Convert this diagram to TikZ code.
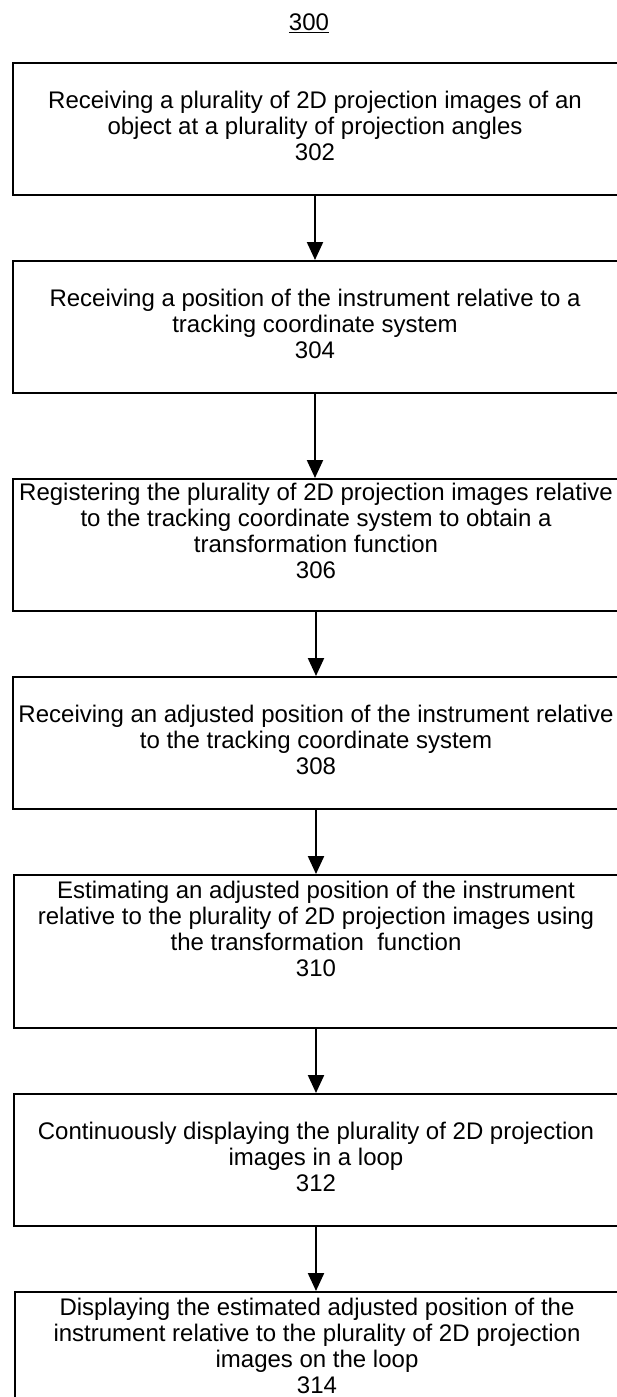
\documentclass[tikz,border=0pt]{standalone}
\usepackage{fontspec}
\setmainfont{Liberation Sans}
\usetikzlibrary{arrows.meta}
\tikzset{
  stepbox/.style={draw=black, line width=2.4pt, minimum width=640pt,
    minimum height=132pt, inner sep=0pt, anchor=north west},
  steptext/.style={align=center, inner sep=0pt, anchor=north,
    font=\fontsize{24}{26}\selectfont},
  flowarrow/.style={line width=2.2pt, -{Triangle[length=18pt,width=16pt]}},
}

\begin{document}
\begin{tikzpicture}[x=1pt,y=-1pt]
  \useasboundingbox (0,0) rectangle (617,1397);
  \clip (0,0) rectangle (617,1397);
  \node[font=\fontsize{24}{26}\selectfont] (fig) at (309,23) {\underline{300}};
  % boxes
  \node[stepbox] (b302) at (12,62) {};
  \node[stepbox] (b304) at (12,260) {};
  \node[stepbox] (b306) at (12,478) {};
  \node[stepbox] (b308) at (12,676) {};
  \node[stepbox, minimum height=153pt] (b310) at (13,874) {};
  \node[stepbox] (b312) at (13,1093) {};
  \node[stepbox, minimum height=160pt] (b314) at (14,1291) {};
  % texts
  \node[steptext] (t302) at (315,90.5) {Receiving a plurality of 2D projection images of an\\object at a plurality of projection angles\\302};
  \node[steptext] (t304) at (315,288.5) {Receiving a position of the instrument relative to a\\tracking coordinate system\\304};
  \node[steptext] (t306) at (316,482.5) {Registering the plurality of 2D projection images relative\\to the tracking coordinate system to obtain a\\transformation function\\306};
  \node[steptext] (t308) at (316,704.5) {Receiving an adjusted position of the instrument relative\\to the tracking coordinate system\\308};
  \node[steptext] (t310) at (316,880.5) {Estimating an adjusted position of the instrument\\relative to the plurality of 2D projection images using\\the transformation\ \ function\\310};
  \node[steptext] (t312) at (316,1121.5) {Continuously displaying the plurality of 2D projection\\images in a loop\\312};
  \node[steptext] (t314) at (317,1297.5) {Displaying the estimated adjusted position of the\\instrument relative to the plurality of 2D projection\\images on the loop\\314};
  % arrows
  \draw[flowarrow] (t302 |- b302.south) -- (t302 |- b304.north);
  \draw[flowarrow] (t304 |- b304.south) -- (t304 |- b306.north);
  \draw[flowarrow] (t306 |- b306.south) -- (t306 |- b308.north);
  \draw[flowarrow] (t308 |- b308.south) -- (t308 |- b310.north);
  \draw[flowarrow] (t310 |- b310.south) -- (t310 |- b312.north);
  \draw[flowarrow] (t312 |- b312.south) -- (t312 |- b314.north);
\end{tikzpicture}
\end{document}
